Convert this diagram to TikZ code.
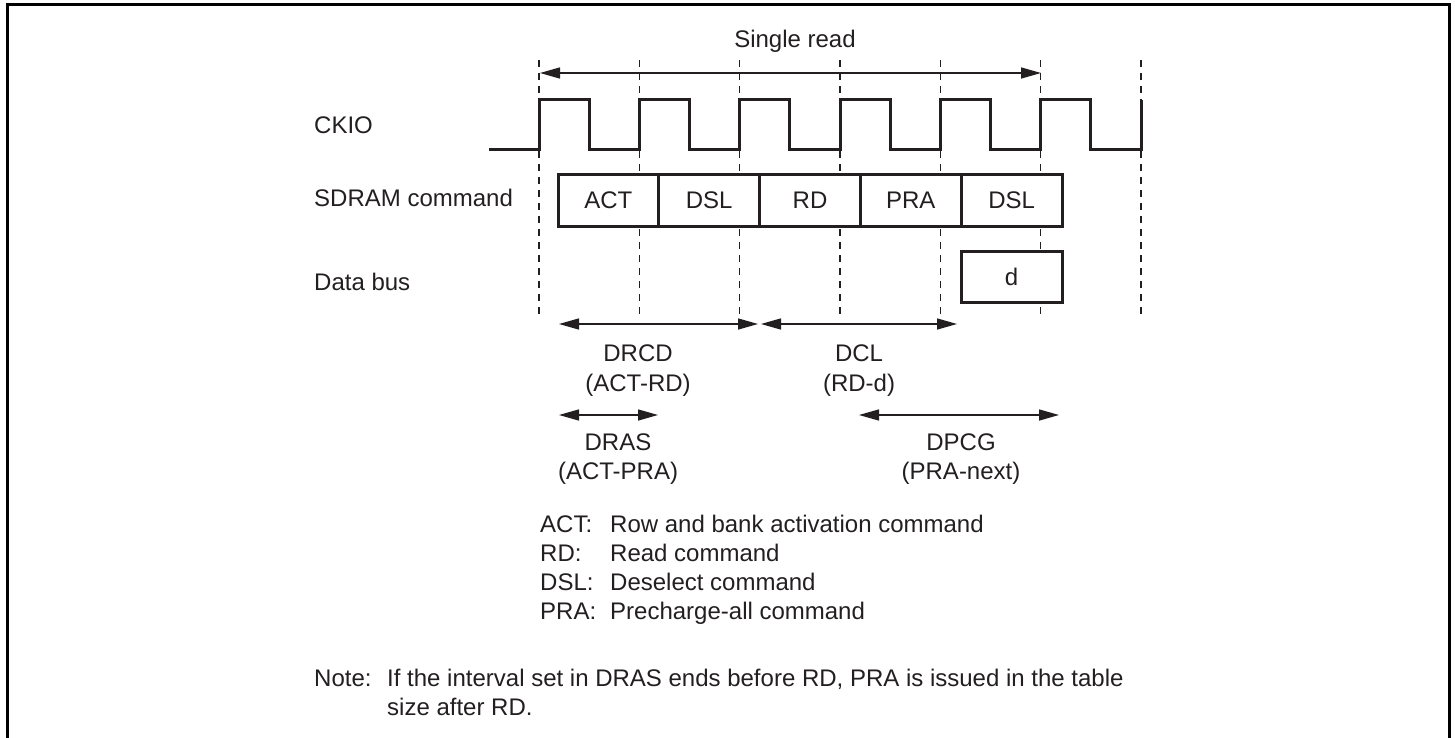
\documentclass[tikz,border=0pt]{standalone}
\usepackage{fontspec}
\setmainfont{Liberation Sans}
\usetikzlibrary{positioning,arrows.meta}
\definecolor{inkclr}{RGB}{35,31,32}

\tikzset{
  cmdbox/.style={draw=inkclr, fill=white, line width=3pt, minimum width=100.8pt, minimum height=51pt,
                 inner sep=0pt, outer sep=0pt, text=inkclr, font=\fontsize{24}{29}\selectfont},
  lbl/.style={inner sep=0pt, text=inkclr, font=\fontsize{24}{29}\selectfont},
  guide/.style={draw=inkclr, line width=1.5pt, dash pattern=on 7pt off 6pt},
  span/.style={draw=inkclr, line width=1.5pt,
               {Triangle[length=20pt,width=11pt]}-{Triangle[length=20pt,width=11pt]}},
  clk/.style={draw=inkclr, line width=3pt}
}

\begin{document}
\begin{tikzpicture}[x=1pt,y=-1pt]
  \useasboundingbox (0,0) rectangle (1455,738);
  % frame
  \draw[line width=3pt] (7,742) -- (7,5) -- (1449,5) -- (1449,742);

  % clock edges as guides
  \foreach \i in {0,...,6} {
    \coordinate (gt\i) at ({539+100.33*\i},60);
    \coordinate (gb\i) at ({539+100.33*\i},318);
    \draw[guide] (gt\i) -- (gb\i);
  }

  % single read span
  \coordinate (srL) at (540,73);
  \coordinate (srR) at (1041,73);
  \draw[span] (srL) -- (srR);
  \node[lbl, anchor=base] (single) at (795,48) {Single read};

  % CKIO waveform
  \draw[clk] (489,150) -- (539,150) -- (539,100) -- (589,100) -- (589,150)
    -- (639.3,150) -- (639.3,100) -- (689.3,100) -- (689.3,150)
    -- (739.7,150) -- (739.7,100) -- (789.7,100) -- (789.7,150)
    -- (840,150) -- (840,100) -- (890,100) -- (890,150)
    -- (940.3,150) -- (940.3,100) -- (990.3,100) -- (990.3,150)
    -- (1040.7,150) -- (1040.7,100) -- (1090.7,100) -- (1090.7,150)
    -- (1141,150) -- (1141,100);

  % row labels
  \node[lbl, anchor=base west] (ckio) at (314,133.6) {CKIO};
  \node[lbl, anchor=base west] (sdram) at (314,206) {SDRAM command};
  \node[lbl, anchor=base west] (databus) at (314,290) {Data bus};

  % command boxes
  \node[cmdbox] (act) at (608.4,200.5) {ACT};
  \node[cmdbox, right=0pt of act] (dsl1) {DSL};
  \node[cmdbox, right=0pt of dsl1] (rd) {RD};
  \node[cmdbox, right=0pt of rd] (pra) {PRA};
  \node[cmdbox, right=0pt of pra] (dsl2) {DSL};
  \node[cmdbox, below=25pt of dsl2] (dat) {d};

  % timing spans
  \coordinate (drcdL) at (559,324);
  \coordinate (drcdR) at (758,324);
  \coordinate (dclL) at (761,324);
  \coordinate (dclR) at (957,324);
  \coordinate (drasL) at (559,415);
  \coordinate (drasR) at (658,415);
  \coordinate (dpcgL) at (859,415);
  \coordinate (dpcgR) at (1059,415);
  \draw[span] (drcdL) -- (drcdR);
  \draw[span] (dclL) -- (dclR);
  \draw[span] (drasL) -- (drasR);
  \draw[span] (dpcgL) -- (dpcgR);

  \node[lbl, anchor=base] (drcd) at (638,361.5) {DRCD};
  \node[lbl, anchor=base] (drcdsub) at (638,391) {(ACT-RD)};
  \node[lbl, anchor=base] (dcl) at (859,361.5) {DCL};
  \node[lbl, anchor=base] (dclsub) at (859,391) {(RD-d)};
  \node[lbl, anchor=base] (dras) at (618,450) {DRAS};
  \node[lbl, anchor=base] (drassub) at (618,479.5) {(ACT-PRA)};
  \node[lbl, anchor=base] (dpcg) at (961,450) {DPCG};
  \node[lbl, anchor=base] (dpcgsub) at (961,479.5) {(PRA-next)};

  % legend
  \node[lbl, anchor=base west] (kact) at (540,532) {ACT:};
  \node[lbl, anchor=base west] (dact) at (610,532) {Row and bank activation command};
  \node[lbl, anchor=base west] (krd) at (540,561) {RD:};
  \node[lbl, anchor=base west] (drd) at (610,561) {Read command};
  \node[lbl, anchor=base west] (kdsl) at (540,590) {DSL:};
  \node[lbl, anchor=base west] (ddsl) at (610,590) {Deselect command};
  \node[lbl, anchor=base west] (kpra) at (540,619) {PRA:};
  \node[lbl, anchor=base west] (dpra) at (610,619) {Precharge-all command};

  % note
  \node[lbl, anchor=base west] (note) at (314,686) {Note:};
  \node[lbl, anchor=base west] (notea) at (387,686)
    {If the interval set in DRAS ends before RD, PRA is issued in the table};
  \node[lbl, anchor=base west] (noteb) at (387,715) {size after RD.};
\end{tikzpicture}
\end{document}
